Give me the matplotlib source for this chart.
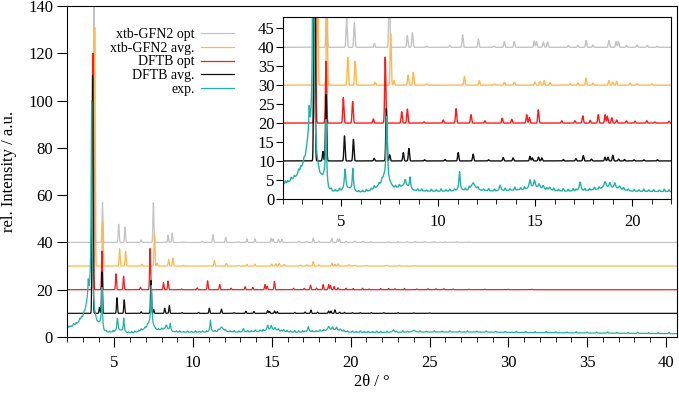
import numpy as np
import matplotlib
matplotlib.use("Agg")
import matplotlib.pyplot as plt
from matplotlib.ticker import MultipleLocator

plt.rcParams['font.family'] = ['Liberation Serif', 'DejaVu Serif']

# 2theta grid used to draw the reflections
two_theta = np.arange(2.0, 40.7, 0.005)

labels = ["xtb-GFN2 opt", "xtb-GFN2 avg.", "DFTB opt", "DFTB avg.", "exp."]
colors = ["#c4c4c4", "#ffb84d", "#ff1a1a", "#111111", "#22b3a6"]
offsets = [40, 30, 20, 10, 0]

# simulated reflections: (2theta, height above offset)
xtb_opt_peaks = [(3.72, 101), (4.25, 17), (5.28, 7.7), (5.68, 6.5), (6.71, 1.0),
                 (7.48, 16.8), (8.41, 3.1), (8.67, 3.9), (9.4, 0.3), (10.6, 0.5),
                 (11.26, 3.3), (12.07, 2.2), (12.88, 0.3), (13.41, 1.5), (13.92, 1.5),
                 (14.95, 1.7), (15.07, 1.5), (15.42, 1.4), (15.64, 1.4), (16.71, 0.5),
                 (17.2, 0.5), (17.62, 1.8), (17.98, 0.6), (18.8, 1.8), (19.17, 1.5),
                 (19.29, 1.5), (19.71, 0.5), (20.25, 0.6), (20.77, 0.5), (21.28, 0.3),
                 (22.4, 0.3), (23.0, 0.4), (23.6, 0.3), (24.1, 0.4), (24.7, 0.3),
                 (25.3, 0.3), (26.0, 0.3), (26.7, 0.3), (27.5, 0.2)]
xtb_avg_peaks = [(3.76, 101), (4.26, 19), (5.34, 7.3), (5.72, 6.3), (6.75, 0.8),
                 (7.55, 13.5), (7.72, 1.2), (8.45, 2.7), (8.72, 3.4), (9.4, 0.3),
                 (11.35, 2.3), (12.12, 1.2), (12.9, 0.3), (13.41, 0.8), (13.92, 0.8),
                 (14.99, 0.8), (15.25, 1.0), (15.46, 1.2), (15.77, 0.7), (16.8, 0.4),
                 (17.2, 0.6), (17.62, 1.9), (17.98, 0.6), (18.8, 1.2), (19.0, 0.8),
                 (19.2, 1.0), (19.9, 0.6), (20.25, 0.4), (21.0, 0.3), (22.3, 0.3),
                 (23.1, 0.3), (24.0, 0.2)]
dftb_opt_peaks = [(3.65, 100), (4.22, 16.3), (5.11, 6.7), (5.59, 5.7), (6.66, 1.1),
                  (7.27, 17.4), (8.12, 3.0), (8.41, 3.7), (9.27, 0.3), (10.26, 0.8),
                  (10.92, 3.8), (11.69, 2.2), (12.41, 0.6), (13.3, 1.3), (13.79, 1.0),
                  (14.56, 2.2), (14.7, 1.5), (15.16, 3.5), (16.37, 0.6), (17.05, 0.6),
                  (17.45, 1.9), (17.83, 0.7), (18.25, 2.2), (18.6, 2.2), (18.72, 1.8),
                  (18.95, 1.4), (19.2, 0.8), (19.7, 0.6), (20.15, 0.5), (20.75, 0.6),
                  (21.17, 0.3), (21.9, 0.5), (22.4, 0.5), (22.8, 0.4), (23.4, 0.5),
                  (24.2, 0.3), (24.9, 0.4), (25.4, 0.4), (25.9, 0.4), (26.5, 0.3),
                  (27.5, 0.2), (28.5, 0.2), (30.0, 0.2), (31.5, 0.2)]
dftb_avg_peaks = [(3.62, 100.5), (4.06, 2.5), (4.22, 17.5), (5.17, 6.6), (5.63, 5.7),
                  (6.7, 0.7), (7.33, 13.9), (7.5, 1.6), (8.2, 2.2), (8.49, 3.3),
                  (9.3, 0.3), (10.35, 0.4), (11.03, 2.2), (11.8, 1.8), (12.6, 0.3),
                  (13.35, 0.9), (13.86, 0.8), (14.73, 1.2), (14.85, 0.8), (15.17, 1.0),
                  (15.34, 0.8), (16.45, 0.4), (17.1, 0.6), (17.48, 1.4), (17.9, 0.5),
                  (18.6, 1.0), (18.75, 1.0), (19.0, 1.5), (19.3, 0.5), (19.6, 0.4),
                  (20.1, 0.3), (20.6, 0.3), (21.3, 0.3), (22.1, 0.3), (23.0, 0.3),
                  (24.0, 0.2), (25.0, 0.2)]

# experimental pattern: background knots + reflections (2theta, height, fwhm)
exp_bg_x = [2.0, 2.3, 2.7, 3.0, 3.15, 3.28, 3.45, 3.6, 3.75, 3.9, 4.05, 4.15, 4.35,
            4.6, 5.0, 5.4, 5.8, 6.2, 6.5, 6.8, 7.05, 7.2, 7.5, 7.7, 7.95, 8.3, 8.7,
            9.5, 10.5, 11.5, 11.8, 12.2, 13.0, 14.5, 15.0, 15.5, 16.5, 17.5, 18.4,
            19.2, 20.0, 22.0, 25.0, 28.0, 31.0, 35.0, 40.7]
exp_bg_y = [3.8, 4.4, 6.0, 8.5, 10.8, 14.5, 16.5, 14.0, 9.0, 6.0, 5.5, 6.0, 2.2,
            1.8, 2.0, 2.5, 1.7, 1.8, 2.2, 3.0, 4.0, 5.5, 4.0, 2.9, 3.0, 3.5, 2.2,
            2.0, 2.0, 2.2, 3.0, 2.2, 2.0, 2.5, 2.8, 2.3, 2.0, 2.1, 2.6,
            2.6, 2.0, 1.9, 2.1, 2.1, 1.9, 1.7, 1.4]
exp_peaks = [(3.35, 7, 0.06), (3.56, 85, 0.07), (4.22, 16, 0.06), (5.2, 5.5, 0.09),
             (5.6, 5.8, 0.07), (7.35, 17, 0.08), (8.3, 1.5, 0.1), (8.55, 3.0, 0.07),
             (11.1, 5.0, 0.08), (11.8, 1.2, 0.2), (13.19, 1.5, 0.1), (14.73, 2.3, 0.1),
             (14.96, 2.0, 0.1), (15.2, 1.2, 0.1), (15.41, 1.0, 0.1), (15.75, 0.8, 0.1),
             (17.31, 2.3, 0.1), (18.6, 1.8, 0.15), (18.85, 1.5, 0.1), (19.1, 1.5, 0.1),
             (19.35, 0.8, 0.1), (22.7, 1.0, 0.15), (24.0, 0.8, 0.2)]
exp_minor = [(2.12, 0.6), (2.25, 0.4), (2.42, 0.7), (2.58, 0.5), (2.8, 0.8), (2.92, 0.6),
             (3.08, 0.7), (4.48, 0.5), (4.7, 0.4), (4.92, 0.6), (5.9, 0.3), (6.1, 0.4),
             (6.3, 0.5), (6.55, 0.4), (6.7, 0.6), (6.95, 0.5), (7.1, 0.6), (7.8, 0.5),
             (8.0, 0.6), (8.95, 0.4), (9.15, 0.5), (9.4, 0.3), (9.65, 0.5), (9.9, 0.4),
             (10.15, 0.6), (10.4, 0.4), (10.6, 0.5), (10.85, 0.4), (11.4, 0.5), (11.6, 0.6),
             (12.05, 0.5), (12.35, 0.4), (12.6, 0.6), (12.9, 0.5), (13.45, 0.6), (13.7, 0.4),
             (13.95, 0.7), (14.25, 0.5), (14.45, 0.6), (15.6, 0.5), (15.95, 0.6), (16.2, 0.4),
             (16.45, 0.7), (16.7, 0.5), (16.95, 0.6), (17.1, 0.4), (17.55, 0.5), (17.8, 0.4),
             (18.05, 0.6), (18.3, 0.5), (19.55, 0.6), (19.8, 0.4), (20.1, 0.5), (20.35, 0.4),
             (20.6, 0.6), (20.85, 0.4), (21.1, 0.5), (21.4, 0.4), (21.65, 0.6), (21.9, 0.5),
             (22.3, 0.5), (22.9, 0.4), (23.3, 0.6), (23.6, 0.4), (24.4, 0.5), (24.8, 0.4),
             (25.3, 0.5), (25.8, 0.4), (26.3, 0.5), (26.9, 0.4), (27.4, 0.5), (28.0, 0.4),
             (28.6, 0.5), (29.2, 0.4), (29.8, 0.4), (30.5, 0.5), (31.1, 0.4), (31.7, 0.4),
             (32.4, 0.5), (33.0, 0.4), (33.7, 0.4), (34.3, 0.5), (35.0, 0.4), (35.6, 0.4),
             (36.3, 0.5), (36.9, 0.4), (37.6, 0.4), (38.2, 0.5), (38.9, 0.4), (39.5, 0.4),
             (40.2, 0.5)]


def sim_curve(peaks, offset, fwhm=0.07):
    y = np.full_like(two_theta, float(offset))
    s = fwhm / 2.3548
    for p, h in peaks:
        y += h * np.exp(-0.5 * ((two_theta - p) / s) ** 2)
    return y


def exp_curve():
    y = np.interp(two_theta, exp_bg_x, exp_bg_y)
    for p, h, w in exp_peaks:
        y += h / (1 + ((two_theta - p) / (w / 2)) ** 2)
    for p, h in exp_minor:
        y += h * np.exp(-0.5 * ((two_theta - p) / 0.025) ** 2)
    return y


curves = [sim_curve(xtb_opt_peaks, offsets[0]),
          sim_curve(xtb_avg_peaks, offsets[1]),
          sim_curve(dftb_opt_peaks, offsets[2]),
          sim_curve(dftb_avg_peaks, offsets[3]),
          exp_curve()]

fig = plt.figure(figsize=(6.79, 3.95), dpi=100)
ax = fig.add_axes([67 / 679, 58 / 395, 610 / 679, 331 / 395])

for y, c, lab in zip(curves, colors, labels):
    ax.plot(two_theta, y, color=c, lw=0.9, label=lab)

ax.set_xlim(2, 40.7)
ax.set_ylim(0, 140)
ax.xaxis.set_major_locator(MultipleLocator(5))
ax.xaxis.set_minor_locator(MultipleLocator(1))
ax.yaxis.set_major_locator(MultipleLocator(20))
ax.tick_params(axis='both', which='both', direction='out', top=False, right=False,
               labelsize=12)
ax.tick_params(axis='x', which='major', length=7, pad=6)
ax.tick_params(axis='x', which='minor', length=3.5)
ax.tick_params(axis='y', which='major', length=7, pad=3)
ax.set_xlabel("2θ / °", fontsize=12, labelpad=2)
ax.set_ylabel("rel. Intensity / a.u.", fontsize=12, labelpad=8)

leg = ax.legend(loc='upper right', bbox_to_anchor=(234 / 679, 1 - 28 / 395),
                bbox_transform=fig.transFigure, frameon=False, markerfirst=False,
                fontsize=10, handlelength=2.4, handletextpad=0.45,
                labelspacing=0.05, borderpad=0, borderaxespad=0)

# zoomed inset of the low-angle region
axin = fig.add_axes([283 / 679, 196.2 / 395, 388 / 679, 181.8 / 395])
for y, c in zip(curves, colors):
    axin.plot(two_theta, y, color=c, lw=1.0)
axin.set_xlim(2, 22)
axin.set_ylim(0, 48)
axin.xaxis.set_major_locator(MultipleLocator(5))
axin.xaxis.set_minor_locator(MultipleLocator(1))
axin.yaxis.set_major_locator(MultipleLocator(5))
axin.tick_params(axis='both', which='both', direction='out', top=False, right=False,
                 labelsize=12)
axin.tick_params(axis='x', which='major', length=5, pad=6)
axin.tick_params(axis='x', which='minor', length=3.5)
axin.tick_params(axis='y', which='major', length=5, pad=1)

fig.savefig("out.png", dpi=100)
